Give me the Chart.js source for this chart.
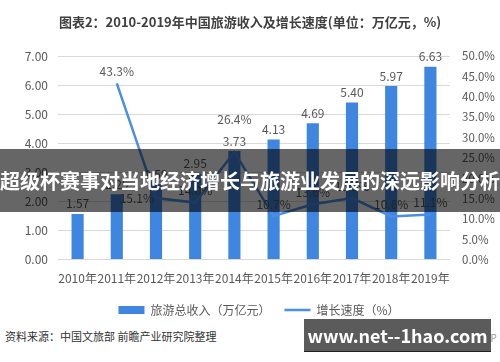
<!DOCTYPE html>
<html lang="zh">
<head>
<meta charset="UTF-8">
<title>2010-2019年中国旅游收入及增长速度</title>
<script src="https://cdn.jsdelivr.net/npm/chart.js"></script>
<style>
    body {
        margin: 0;
        background: #fff;
        font-family: "Noto Sans CJK SC", "Noto Sans", sans-serif;
    }
    .wrap {
        position: relative;
        width: 500px;
        height: 362px;
        overflow: hidden;
    }
    .title {
        position: absolute;
        left: 0; top: 12px; width: 500px;
        text-align: center;
        font-size: 13px;
        font-weight: bold;
        color: #404040;
    }
    .chart-box {
        position: absolute;
        left: 0; top: 0;
        width: 500px; height: 326px;
    }
    .banner {
        position: absolute;
        left: 0; top: 149px;
        width: 500px; height: 63px;
        background: rgba(0, 0, 0, 0.6);
        color: #fff;
        font-size: 20px;
        font-weight: bold;
        line-height: 63px;
        text-align: center;
        white-space: nowrap;
    }
    .source {
        position: absolute;
        left: 5px; top: 328px;
        font-size: 11px;
        color: #333;
    }
    .app {
        position: absolute;
        left: 478px; top: 330px;
        font-size: 10px;
        color: #999;
    }
    .mark {
        position: absolute;
        left: 304px; top: 319px;
        width: 187px; height: 32px;
        background: #5b5b5b;
        border-bottom: 1px solid #222;
        color: #fff;
        font-size: 18px;
        font-weight: bold;
        line-height: 32px;
        text-align: center;
        white-space: nowrap;
    }
</style>
</head>
<body>
<div class="wrap">
    <div class="chart-box"><canvas id="chart"></canvas></div>
    <div class="title">图表2：2010-2019年中国旅游收入及增长速度(单位：万亿元，%)</div>
    <div class="banner">超级杯赛事对当地经济增长与旅游业发展的深远影响分析</div>
    <div class="source">资料来源：中国文旅部 前瞻产业研究院整理</div>
    <div class="app">APP</div>
    <div class="mark">www.net--1hao.com</div>
</div>

<script>
    // data
    const years = ['2010年', '2011年', '2012年', '2013年', '2014年', '2015年', '2016年', '2017年', '2018年', '2019年'];
    const revenue = [1.57, 2.25, 2.59, 2.95, 3.73, 4.13, 4.69, 5.40, 5.97, 6.63];
    const growth = [null, 43.3, 15.1, 14.0, 26.4, 10.7, 13.6, 15.1, 10.6, 11.1];
    const leftTicks = ['0.00', '1.00', '2.00', '3.00', '4.00', '5.00', '6.00', '7.00'];
    const rightTicks = ['0.0%', '5.0%', '10.0%', '15.0%', '20.0%', '25.0%', '30.0%', '35.0%', '40.0%', '45.0%', '50.0%'];

    const FONT = '"Noto Sans CJK SC", "Noto Sans", sans-serif';
    const GREY = '#595959';

    // value labels over bars and line points
    const valueLabels = {
        id: 'valueLabels',
        afterDatasetsDraw(chart) {
            const ctx = chart.ctx;
            const bars = chart.getDatasetMeta(0).data;
            const pts = chart.getDatasetMeta(1).data;
            ctx.save();
            ctx.font = '12px ' + FONT;
            ctx.fillStyle = GREY;
            ctx.textAlign = 'center';
            ctx.textBaseline = 'bottom';
            const barLabelY = [];
            bars.forEach((el, i) => {
                const y = el.y - 4;
                barLabelY[i] = y;
                ctx.fillText(revenue[i].toFixed(2), el.x, y);
            });
            pts.forEach((el, i) => {
                if (growth[i] === null) return;
                const txt = growth[i].toFixed(1) + '%';
                let x = el.x, y = el.y - 6;
                if (Math.abs(y - barLabelY[i]) < 16) {
                    if (el.y <= bars[i].y + 3) {
                        y = barLabelY[i] - 22;
                    } else {
                        ctx.textAlign = 'right';
                        x = el.x - 2;
                        y = el.y + 6;
                    }
                }
                ctx.fillText(txt, x, y);
                ctx.textAlign = 'center';
            });
            ctx.restore();
        }
    };

    new Chart(document.getElementById('chart'), {
        data: {
            labels: years,
            datasets: [
                {
                    type: 'bar',
                    label: '旅游总收入（万亿元）',
                    data: revenue,
                    yAxisID: 'y',
                    backgroundColor: '#3f86e0',
                    barPercentage: 0.31,
                    categoryPercentage: 1,
                    order: 1
                },
                {
                    type: 'line',
                    label: '增长速度（%）',
                    data: growth,
                    yAxisID: 'y2',
                    borderColor: '#4a8ee6',
                    backgroundColor: '#4a8ee6',
                    borderWidth: 2.5,
                    pointRadius: 0,
                    tension: 0,
                    order: 0
                }
            ]
        },
        options: {
            responsive: true,
            maintainAspectRatio: false,
            animation: false,
            layout: { padding: { top: 56, left: 18, right: 0, bottom: 0 } },
            plugins: {
                tooltip: { enabled: false },
                legend: {
                    position: 'bottom',
                    labels: {
                        usePointStyle: true,
                        pointStyleWidth: 26,
                        boxHeight: 8,
                        padding: 14,
                        color: GREY,
                        font: { family: FONT, size: 12 },
                        sort: (a, b) => a.datasetIndex - b.datasetIndex,
                        generateLabels(chart) {
                            const items = Chart.defaults.plugins.legend.labels.generateLabels(chart);
                            items.forEach(it => {
                                it.pointStyle = chart.data.datasets[it.datasetIndex].type === 'line' ? 'line' : 'rect';
                            });
                            return items;
                        }
                    }
                }
            },
            scales: {
                x: {
                    grid: { display: false },
                    border: { display: false },
                    ticks: { color: GREY, font: { family: FONT, size: 12 }, maxRotation: 0, autoSkip: false, padding: 4 }
                },
                y: {
                    position: 'left',
                    min: 0, max: 7,
                    afterFit: (axis) => { axis.width = 40; },
                    ticks: {
                        stepSize: 1,
                        padding: 10,
                        color: GREY,
                        font: { family: FONT, size: 12 },
                        callback: (v) => leftTicks[v]
                    },
                    grid: { color: '#d9d9d9', drawTicks: false },
                    border: { display: false }
                },
                y2: {
                    position: 'right',
                    min: 0, max: 50,
                    afterFit: (axis) => { axis.width = 50; },
                    ticks: {
                        stepSize: 5,
                        padding: 12,
                        color: GREY,
                        font: { family: FONT, size: 11.5 },
                        callback: (v) => rightTicks[v / 5]
                    },
                    grid: { display: false, drawTicks: false },
                    border: { display: false }
                }
            }
        },
        plugins: [valueLabels]
    });
</script>
</body>
</html>
